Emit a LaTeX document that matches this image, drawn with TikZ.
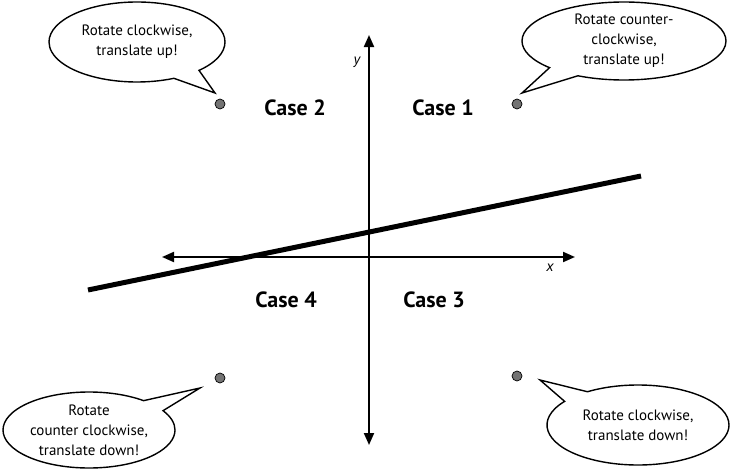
\documentclass[tikz,border=0pt]{standalone}
\usepackage{fontspec}
\setmainfont{PT Sans}
\usetikzlibrary{arrows.meta,shapes.callouts}
\begin{document}
\begin{tikzpicture}[x=1pt,y=-1pt,
  bubble/.style={ellipse callout, draw, line width=1.4pt, fill=white, align=center,
    font=\fontsize{15}{20}\selectfont, inner sep=0pt, callout pointer arc=20},
  dot/.style={circle, draw, line width=0.7pt, fill=black!55, minimum size=10pt, inner sep=0pt},
  caselbl/.style={font=\bfseries\fontsize{22}{26}\selectfont},
  axis/.style={line width=2pt, {Triangle[length=12pt,width=10pt]}-{Triangle[length=12pt,width=10pt]}},
  axlbl/.style={font=\itshape\fontsize{15}{17}\selectfont}]
\useasboundingbox (0,0) rectangle (733,471);

% axes
\coordinate (ytop) at (369,35);
\coordinate (ybot) at (369,445);
\coordinate (xl) at (162,257);
\coordinate (xr) at (575,257);
\draw[axis] (ybot) -- (ytop);
\draw[axis] (xl) -- (xr);
\node[axlbl] (ylab) at (357,62) {y};
\node[axlbl] (xlab) at (550,268) {x};

% line
\coordinate (l1) at (88,290);
\coordinate (l2) at (641,176);
\draw[line width=5pt] (l1) -- (l2);

% case labels
\node[caselbl] (c2) at (295,108) {Case 2};
\node[caselbl] (c1) at (443,108) {Case 1};
\node[caselbl] (c4) at (286,300) {Case 4};
\node[caselbl] (c3) at (434,300) {Case 3};

% dots
\node[dot] (d2) at (220,104) {};
\node[dot] (d1) at (517,104) {};
\node[dot] (d4) at (220,378) {};
\node[dot] (d3) at (517,376) {};

% bubbles
\coordinate (t1) at (215,93);
\coordinate (t2) at (522,93);
\coordinate (t3) at (200,388);
\coordinate (t4) at (540,380);
\node[bubble, minimum width=176pt, minimum height=80pt, callout absolute pointer={(t1)}] (b1) at (137,42) {Rotate clockwise,\\translate up!};
\node[bubble, minimum width=204pt, minimum height=78pt, callout absolute pointer={(t2)}] (b2) at (624,41) {Rotate counter-\\clockwise,\\translate up!};
\node[bubble, minimum width=172pt, minimum height=76pt, callout absolute pointer={(t3)}] (b3) at (89,430) {Rotate\\counter clockwise,\\translate down!};
\node[bubble, minimum width=182pt, minimum height=80pt, callout absolute pointer={(t4)}] (b4) at (638,425) {Rotate clockwise,\\translate down!};
\end{tikzpicture}
\end{document}
